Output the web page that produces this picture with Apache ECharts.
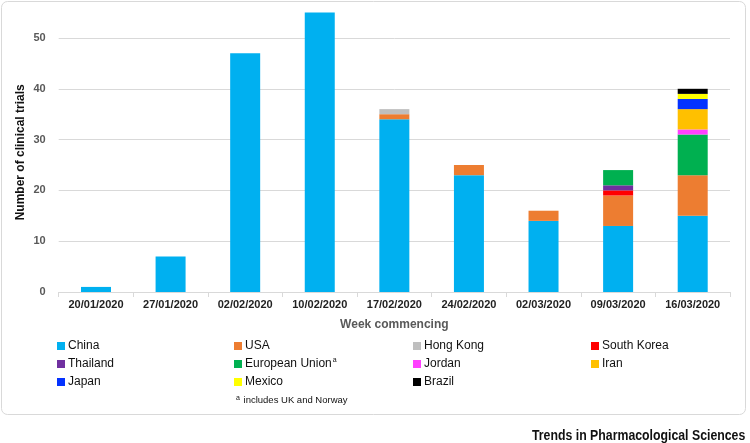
<!DOCTYPE html>
<html><head><meta charset="utf-8">
<script src="https://cdn.jsdelivr.net/npm/echarts@6/dist/echarts.min.js"></script>
<style>html,body{margin:0;padding:0;background:#fff}#c{width:750px;height:443px}</style>
</head><body><div id="c"></div>
<script>
const weeks = ['20/01/2020','27/01/2020','02/02/2020','10/02/2020','17/02/2020','24/02/2020','02/03/2020','09/03/2020','16/03/2020'];
const china    = [1, 7, 47, 55, 34, 23, 14, 13, 15];
const usa      = [0, 0, 0, 0, 1, 2, 2, 6, 8];
const hongKong = [0, 0, 0, 0, 1, 0, 0, 0, 0];
const sKorea   = [0, 0, 0, 0, 0, 0, 0, 1, 0];
const thailand = [0, 0, 0, 0, 0, 0, 0, 1, 0];
const eu       = [0, 0, 0, 0, 0, 0, 0, 3, 8];
const jordan   = [0, 0, 0, 0, 0, 0, 0, 0, 1];
const iran     = [0, 0, 0, 0, 0, 0, 0, 0, 4];
const japan    = [0, 0, 0, 0, 0, 0, 0, 0, 2];
const mexico   = [0, 0, 0, 0, 0, 0, 0, 0, 1];
const brazil   = [0, 0, 0, 0, 0, 0, 0, 0, 1];
const yTicks = [0, 10, 20, 30, 40, 50];

const seriesDefs = [
  ['China', china, '#00B0F0'],
  ['USA', usa, '#ED7D31'],
  ['Hong Kong', hongKong, '#BFBFBF'],
  ['South Korea', sKorea, '#FF0000'],
  ['Thailand', thailand, '#7030A0'],
  ['European Union', eu, '#00B050'],
  ['Jordan', jordan, '#FF40FF'],
  ['Iran', iran, '#FFC000'],
  ['Japan', japan, '#0432FF'],
  ['Mexico', mexico, '#FFFF00'],
  ['Brazil', brazil, '#000000']
];

const FONT = '"Liberation Sans", Arial, sans-serif';
const legendCols = [
  ['China','Thailand','Japan'],
  ['USA','European Union','Mexico'],
  ['Hong Kong','Jordan','Brazil'],
  ['South Korea','Iran']
];
const colX = [52, 229, 408, 586];

const chart = echarts.init(document.getElementById('c'));
chart.setOption({
  animation: false,
  backgroundColor: '#fff',
  grid: { left: 58.7, right: 20, top: 12.6, bottom: 151, containLabel: false },
  legend: legendCols.map((cols, i) => ({
    orient: 'vertical', left: colX[i], top: 334,
    itemWidth: 8, itemHeight: 8, itemGap: 4,
    icon: 'rect',
    data: cols,
    textStyle: { fontFamily: FONT, fontSize: 12, lineHeight: 14, color: '#111', padding: [0,0,0,-2],
      rich: { sup: { fontSize: 7, verticalAlign: 'top', padding: [0,0,6,1], fontFamily: FONT, color: '#111' } } },
    formatter: n => n === 'European Union' ? n + '{sup|a}' : n
  })),
  xAxis: {
    type: 'category', data: weeks,
    axisLine: { lineStyle: { color: '#D9D9D9' } },
    axisTick: { show: true, alignWithLabel: false, length: 5, lineStyle: { color: '#D9D9D9' } },
    axisLabel: { color: '#222', fontWeight: 'bold', fontSize: 11, fontFamily: FONT, margin: 7 },
    name: 'Week commencing', nameLocation: 'middle', nameGap: 27, nameMoveOverlap: false,
    nameTextStyle: { color: '#595959', fontWeight: 'bold', fontSize: 12, fontFamily: FONT }
  },
  yAxis: {
    type: 'value', min: 0, max: 55, interval: 10,
    axisLine: { show: false }, axisTick: { show: false },
    axisLabel: { color: '#595959', fontWeight: 'bold', fontSize: 11, fontFamily: FONT, margin: 13, showMaxLabel: false,
      formatter: v => yTicks.includes(v) ? String(v) : '' },
    splitLine: { lineStyle: { color: '#D9D9D9' }, showMaxLine: false },
    name: 'Number of clinical trials', nameLocation: 'middle', nameGap: 32, nameRotate: 90, nameMoveOverlap: false,
    nameTextStyle: { color: '#111', fontWeight: 'bold', fontSize: 12, fontFamily: FONT }
  },
  series: seriesDefs.map(([name, data, color]) => ({
    name, type: 'bar', stack: 'total', data, barWidth: 30,
    itemStyle: { color }
  })),
  graphic: [
    { type: 'rect', shape: { x: 1.5, y: 1.5, width: 744, height: 413, r: 6 }, style: { fill: 'none', stroke: '#D9D9D9', lineWidth: 1 }, z: -1 },
    { type: 'text', x: 236, y: 400, style: { text: '{a|a} includes UK and Norway', fontFamily: FONT, fontSize: 9.5, fill: '#111', textVerticalAlign: 'middle',
      rich: { a: { fontSize: 7, verticalAlign: 'top', padding: [0,1,4,0], fontFamily: FONT, fill: '#111' } } } },
    { type: 'text', x: 532, y: 436, scaleX: 0.82, style: { text: 'Trends in Pharmacological Sciences', fontFamily: FONT, fontWeight: 'bold', fontSize: 15, fill: '#111', textVerticalAlign: 'middle' } }
  ]
});
</script></body></html>
